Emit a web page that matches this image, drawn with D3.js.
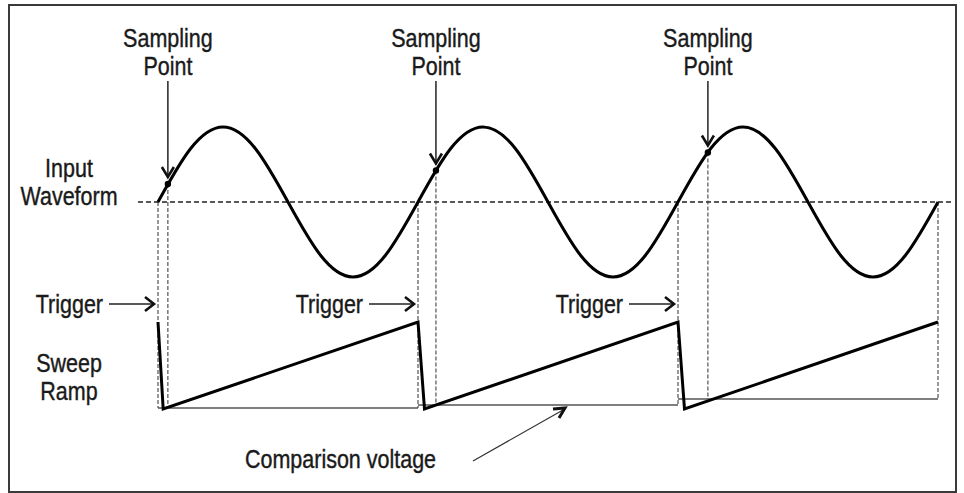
<!DOCTYPE html>
<html>
<head>
<meta charset="utf-8">
<script src="https://cdn.jsdelivr.net/npm/d3@7"></script>
<style>
  html, body { margin: 0; padding: 0; background: #fff; }
  svg text { font-family: "Liberation Sans", Arial, sans-serif; font-size: 25px; fill: #1a1a1a; stroke: #1a1a1a; stroke-width: 0.4px; }
</style>
</head>
<body>
<svg id="chart" width="964" height="493"></svg>
<script>
// Time is in periods of the input waveform, trigger at each rising zero crossing.
const waveT = [0, 0.125, 0.25, 0.375, 0.5, 0.625, 0.75, 0.875,
               1, 1.125, 1.25, 1.375, 1.5, 1.625, 1.75, 1.875,
               2, 2.125, 2.25, 2.375, 2.5, 2.625, 2.75, 2.875, 3];
const waveV = [0, 0.71, 1, 0.71, 0, -0.71, -1, -0.71,
               0, 0.71, 1, 0.71, 0, -0.71, -1, -0.71,
               0, 0.71, 1, 0.71, 0, -0.71, -1, -0.71, 0];

const triggers = [0, 1, 2, 3];
const triggerLabels = [0, 1, 2];        // triggers carrying a "Trigger" arrow label

const sampleT = [0.038, 1.069, 2.115];
const sampleV = [0.24, 0.42, 0.66];

// sweep ramp: 0 = bottom, 1 = top
const rampT = [0, 0.02, 1, 1.025, 2, 2.025, 3];
const rampV = [1, 0, 1, 0, 1, 0, 1];

// comparison voltage steps up once per sweep
const compStart = [0, 1, 2];
const compEnd = [1, 2, 3];
const compV = [0.012, 0.046, 0.115];

const svg = d3.select('#chart');

const x = d3.scaleLinear().domain([0, 3]).range([158, 938]);
const yWave = d3.scaleLinear().domain([-1, 1]).range([277, 127]);
const yRamp = d3.scaleLinear().domain([0, 1]).range([409, 322]);

// condensed look: squeeze regular sans horizontally
const narrow = 0.86;
function label (sel, tx, ty, str, anchor = 'start') {
  return sel.append('text')
    .attr('transform', `translate(${tx},${ty}) scale(${narrow},1)`)
    .attr('text-anchor', anchor)
    .text(str);
}

// frame
svg.append('rect')
  .attr('x', 9).attr('y', 5).attr('width', 947).attr('height', 487)
  .attr('fill', 'none').attr('stroke', '#3a3a3a').attr('stroke-width', 2);

// zero line of the input waveform
svg.append('line')
  .attr('x1', 138).attr('x2', 952)
  .attr('y1', yWave(0)).attr('y2', yWave(0))
  .attr('stroke', '#222').attr('stroke-width', 1.3)
  .attr('stroke-dasharray', '5,3');

// comparison voltage steps
svg.selectAll('.comp')
  .data(compV)
  .enter().append('line')
  .attr('class', 'comp')
  .attr('x1', (d, i) => x(compStart[i]))
  .attr('x2', (d, i) => x(compEnd[i]))
  .attr('y1', d => yRamp(d))
  .attr('y2', d => yRamp(d))
  .attr('stroke', '#555').attr('stroke-width', 1.6);

// dotted drops at the triggers, down to the comparison level
const compAt = t => compV[Math.min(Math.floor(t), compV.length - 1)];
const compBefore = t => compV[Math.max(Math.ceil(t) - 1, 0)];

svg.selectAll('.trigDrop')
  .data(triggers)
  .enter().append('line')
  .attr('class', 'trigDrop')
  .attr('x1', d => x(d)).attr('x2', d => x(d))
  .attr('y1', yWave(0))
  .attr('y2', d => yRamp(compBefore(d)))
  .attr('stroke', '#444').attr('stroke-width', 1.1)
  .attr('stroke-dasharray', '4,2');

svg.selectAll('.sampDrop')
  .data(sampleT)
  .enter().append('line')
  .attr('class', 'sampDrop')
  .attr('x1', d => x(d)).attr('x2', d => x(d))
  .attr('y1', (d, i) => yWave(sampleV[i]))
  .attr('y2', d => yRamp(compAt(d)))
  .attr('stroke', '#444').attr('stroke-width', 1.1)
  .attr('stroke-dasharray', '4,2');

// input waveform
const wave = d3.line()
  .x(d => x(d[0]))
  .y(d => yWave(d[1]))
  .curve(d3.curveNatural);

svg.append('path')
  .datum(waveT.map((t, i) => [t, waveV[i]]))
  .attr('d', wave)
  .attr('fill', 'none').attr('stroke', '#000').attr('stroke-width', 3);

// sweep ramp
const ramp = d3.line()
  .x(d => x(d[0]))
  .y(d => yRamp(d[1]));

svg.append('path')
  .datum(rampT.map((t, i) => [t, rampV[i]]))
  .attr('d', ramp)
  .attr('fill', 'none').attr('stroke', '#000').attr('stroke-width', 3)
  .attr('stroke-linejoin', 'miter');

// sampling points
svg.selectAll('.sample')
  .data(sampleT)
  .enter().append('circle')
  .attr('class', 'sample')
  .attr('cx', d => x(d))
  .attr('cy', (d, i) => yWave(sampleV[i]))
  .attr('r', 3.2)
  .attr('fill', '#000');

// sampling point labels + arrows
sampleT.forEach((t, i) => {
  const sx = x(t), tip = yWave(sampleV[i]) - 7;
  label(svg, sx, 47, 'Sampling', 'middle');
  label(svg, sx, 75, 'Point', 'middle');
  svg.append('line')
    .attr('x1', sx).attr('x2', sx).attr('y1', 81).attr('y2', tip - 1)
    .attr('stroke', '#222').attr('stroke-width', 1.5);
  svg.append('path')
    .attr('d', `M${sx - 6},${tip - 10}L${sx},${tip}L${sx + 6},${tip - 10}`)
    .attr('fill', 'none').attr('stroke', '#111').attr('stroke-width', 2.6);
});

// trigger labels + arrows
triggerLabels.forEach(t => {
  const tx = x(t);
  label(svg, tx - 55, 313, 'Trigger', 'end');
  svg.append('line')
    .attr('x1', tx - 49).attr('x2', tx - 5).attr('y1', 304).attr('y2', 304)
    .attr('stroke', '#222').attr('stroke-width', 1.5);
  svg.append('path')
    .attr('d', `M${tx - 13},297L${tx - 4},304L${tx - 13},311`)
    .attr('fill', 'none').attr('stroke', '#111').attr('stroke-width', 2.6);
});

// left side labels
const leftLabels = ['Input', 'Waveform', 'Sweep', 'Ramp'];
const leftY = [177, 205, 372, 400];
leftLabels.forEach((s, i) => label(svg, 69, leftY[i], s, 'middle'));

// comparison voltage label + arrow
label(svg, 245, 468, 'Comparison voltage');
svg.append('line')
  .attr('x1', 473).attr('y1', 461).attr('x2', 563).attr('y2', 410)
  .attr('stroke', '#333').attr('stroke-width', 1.2);
svg.append('path')
  .attr('d', 'M553,409L565,408L559,418')
  .attr('fill', 'none').attr('stroke', '#111').attr('stroke-width', 3);
</script>
</body>
</html>
